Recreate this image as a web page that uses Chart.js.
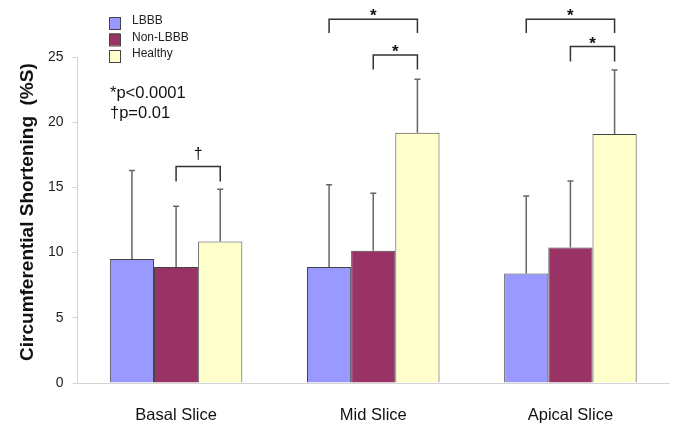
<!DOCTYPE html>
<html>
<head>
<meta charset="utf-8">
<script src="https://cdn.jsdelivr.net/npm/chart.js@4"></script>
<style>
  html, body { margin: 0; padding: 0; background: #fff; }
  #wrap { width: 685px; height: 435px; position: relative; }
</style>
</head>
<body>
<div id="wrap"><canvas id="shorteningChart"></canvas></div>
<script>
// ---- data ----
const categories = ['Basal Slice', 'Mid Slice', 'Apical Slice'];
const groupNames = ['LBBB', 'Non-LBBB', 'Healthy'];
const lbbbMean = [9.5, 8.9, 8.4];
const lbbbSd = [6.8, 6.3, 5.95];
const nonLbbbMean = [8.9, 10.15, 10.4];
const nonLbbbSd = [4.65, 4.4, 5.1];
const healthyMean = [10.85, 19.2, 19.1];
const healthySd = [4.0, 4.1, 4.9];
const yTicks = [0, 5, 10, 15, 20, 25];
const pNotes = ['*p<0.0001', '\u2020p=0.01'];

// significance brackets: category index, dataset from/to, level (value), label
const brackets = [
  { cat: 0, from: 1, to: 2, top: 16.6, leg: 15.45, label: '\u2020' },
  { cat: 1, from: 0, to: 2, top: 27.9, leg: 26.85, label: '*' },
  { cat: 1, from: 1, to: 2, top: 25.15, leg: 24.05, label: '*' },
  { cat: 2, from: 0, to: 2, top: 27.9, leg: 26.85, label: '*' },
  { cat: 2, from: 1, to: 2, top: 25.8, leg: 24.65, label: '*' }
];

const colors = ['#9999FF', '#993366', '#FFFFCC'];
const FONT = '"Liberation Sans", Arial, sans-serif';

// error bars, brackets, legend, p-value notes
const overlays = {
    id: 'overlays',
    afterDraw: function(chart) {
        const ctx = chart.ctx;
        const y = chart.scales.y;

        // error bars (upper only)
        chart.data.datasets.forEach(function(ds, i) {
            chart.getDatasetMeta(i).data.forEach(function(bar, k) {
                const top = y.getPixelForValue(ds.data[k] + ds.sd[k]);
                ctx.save();
                ctx.strokeStyle = '#666';
                ctx.lineWidth = 1.5;
                ctx.beginPath();
                ctx.moveTo(bar.x, bar.y);
                ctx.lineTo(bar.x, top);
                ctx.moveTo(bar.x - 3, top);
                ctx.lineTo(bar.x + 3, top);
                ctx.stroke();
                ctx.restore();
            });
        });

        // brackets
        brackets.forEach(function(b) {
            const x1 = chart.getDatasetMeta(b.from).data[b.cat].x;
            const x2 = chart.getDatasetMeta(b.to).data[b.cat].x;
            const yt = y.getPixelForValue(b.top);
            const yl = y.getPixelForValue(b.leg);
            ctx.save();
            ctx.strokeStyle = '#333';
            ctx.lineWidth = 1.5;
            ctx.beginPath();
            ctx.moveTo(x1, yl);
            ctx.lineTo(x1, yt);
            ctx.lineTo(x2, yt);
            ctx.lineTo(x2, yl);
            ctx.stroke();
            ctx.fillStyle = '#111';
            ctx.textAlign = 'center';
            ctx.textBaseline = 'alphabetic';
            if (b.label === '*') {
                ctx.font = 'bold 17px ' + FONT;
                ctx.fillText(b.label, (x1 + x2) / 2, yt + 2);
            } else {
                ctx.font = '16px ' + FONT;
                ctx.fillText(b.label, (x1 + x2) / 2, yt - 8);
            }
            ctx.restore();
        });

        // legend (vertical list)
        ctx.save();
        ctx.font = '12px ' + FONT;
        ctx.textBaseline = 'middle';
        ctx.textAlign = 'left';
        chart.data.datasets.forEach(function(ds, i) {
            const cy = 23 + i * 16.5;
            ctx.fillStyle = ds.backgroundColor;
            ctx.fillRect(109, cy - 6, 11, 12);
            ctx.strokeStyle = '#444';
            ctx.lineWidth = 1;
            ctx.strokeRect(109.5, cy - 5.5, 11, 12);
            ctx.fillStyle = '#222';
            ctx.fillText(ds.label, 132, cy - 2);
        });

        // p-value notes
        ctx.font = '16.5px ' + FONT;
        ctx.fillStyle = '#111';
        pNotes.forEach(function(t, i) {
            ctx.fillText(t, 110, 93 + i * 20);
        });
        ctx.restore();
    }
};

const shorteningChart = new Chart(
    document.getElementById('shorteningChart'),
    {
        type: 'bar',
        data: {
            labels: categories,
            datasets: [
                { label: groupNames[0], data: lbbbMean, sd: lbbbSd, backgroundColor: colors[0] },
                { label: groupNames[1], data: nonLbbbMean, sd: nonLbbbSd, backgroundColor: colors[1] },
                { label: groupNames[2], data: healthyMean, sd: healthySd, backgroundColor: colors[2] }
            ].map(function(ds) {
                ds.borderColor = '#444';
                ds.borderWidth = 1;
                ds.categoryPercentage = 0.672;
                ds.barPercentage = 1.0;
                return ds;
            })
        },
        plugins: [overlays],
        options: {
            responsive: true,
            maintainAspectRatio: false,
            animation: false,
            layout: { padding: { top: 57, right: 16, bottom: 0, left: 0 } },
            plugins: {
                legend: { display: false },
                tooltip: { enabled: false }
            },
            scales: {
                y: {
                    min: 0,
                    max: 25,
                    afterBuildTicks: function(scale) {
                        scale.ticks = yTicks.map(function(v) { return { value: v }; });
                    },
                    afterFit: function(scale) { scale.width = 77.5; },
                    grid: {
                        drawOnChartArea: false,
                        drawTicks: true,
                        tickLength: 5,
                        color: '#d4d4d4'
                    },
                    border: { display: true, color: '#d4d4d4' },
                    ticks: {
                        padding: 9,
                        color: '#222',
                        font: { family: FONT, size: 14 }
                    },
                    title: {
                        display: true,
                        // leading spaces nudge the centred title upward like the original
                        text: '   Circumferential Shortening  (%S)',
                        color: '#111',
                        padding: { top: 16, bottom: 0 },
                        font: { family: FONT, size: 19, weight: 'bold' }
                    }
                },
                x: {
                    afterFit: function(scale) { scale.height = 52; },
                    grid: { display: false },
                    border: { display: true, color: '#d4d4d4' },
                    ticks: {
                        padding: 15,
                        color: '#111',
                        font: { family: FONT, size: 16.5 }
                    }
                }
            }
        }
    }
);
</script>
</body>
</html>
